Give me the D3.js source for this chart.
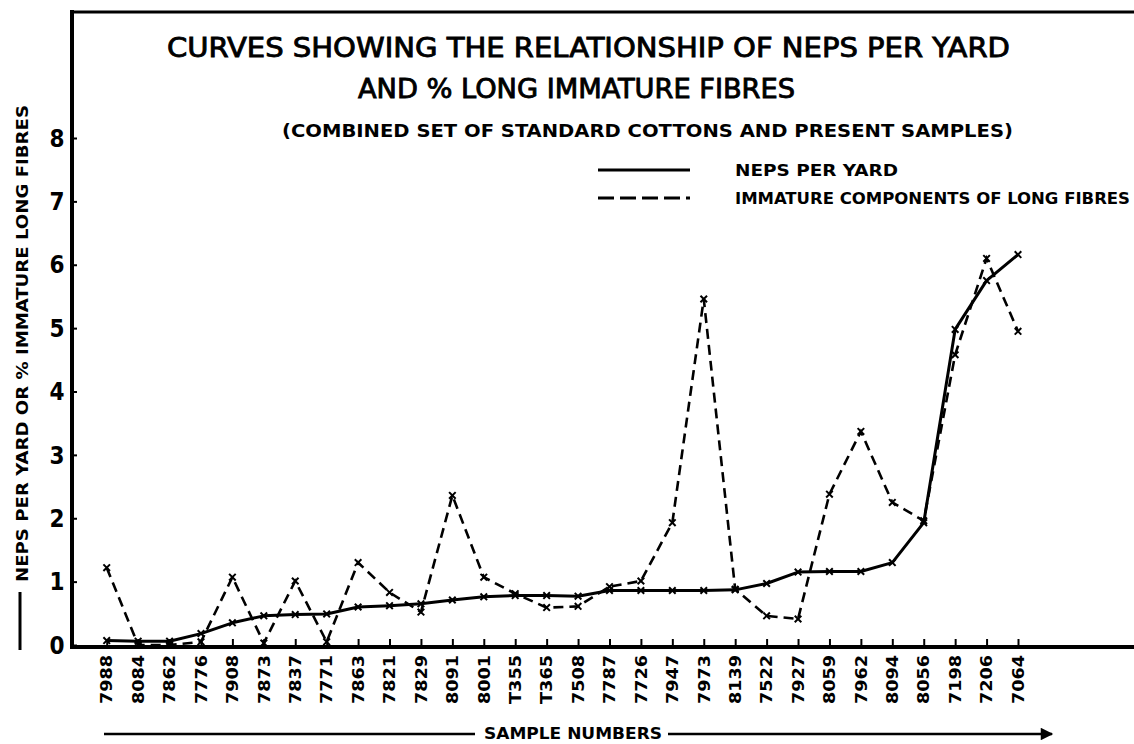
<!DOCTYPE html>
<html>
<head>
<meta charset="utf-8">
<script src="https://cdn.jsdelivr.net/npm/d3@7"></script>
<style>
  body { margin: 0; background: #fff; }
  svg { display: block; }
  text { fill: #000; font-family: "DejaVu Sans Condensed", "DejaVu Sans", sans-serif; font-weight: bold; }
</style>
</head>
<body>
<svg id="chart" width="1134" height="744"></svg>
<script>
// sample numbers along the x axis
const samples = ["7988", "8084", "7862", "7776", "7908", "7873", "7837", "7771", "7863", "7821",
  "7829", "8091", "8001", "T355", "T365", "7508", "7787", "7726", "7947", "7973",
  "8139", "7522", "7927", "8059", "7962", "8094", "8056", "7198", "7206", "7064"];

// neps per yard (solid)
const neps = [0.07, 0.06, 0.06, 0.18, 0.35, 0.46, 0.48, 0.49, 0.6, 0.62,
  0.65, 0.71, 0.76, 0.78, 0.78, 0.77, 0.86, 0.86, 0.86, 0.86,
  0.87, 0.97, 1.15, 1.16, 1.16, 1.3, 1.93, 4.98, 5.75, 6.16];

// immature components of long fibres (dashed)
const immature = [1.22, 0.0, 0.0, 0.05, 1.07, 0.03, 1.01, 0.05, 1.3, 0.83,
  0.52, 2.36, 1.07, 0.81, 0.59, 0.61, 0.92, 1.01, 1.93, 5.46,
  0.88, 0.46, 0.41, 2.38, 3.37, 2.25, 1.96, 4.58, 6.1, 4.95];

const yTicks = [0, 1, 2, 3, 4, 5, 6, 7, 8];

const svg = d3.select("#chart");

const x = d3.scalePoint().domain(samples).range([106.7, 1018]);
const y = d3.scaleLinear().domain([0, 8]).range([645, 138]);

// frame: top rule, left axis, bottom axis
svg.append("line").attr("x1", 70).attr("x2", 1134).attr("y1", 12).attr("y2", 12)
  .attr("stroke", "#000").attr("stroke-width", 3);
svg.append("line").attr("x1", 72).attr("x2", 72).attr("y1", 10).attr("y2", 649)
  .attr("stroke", "#000").attr("stroke-width", 4);
svg.append("line").attr("x1", 70).attr("x2", 1134).attr("y1", 647).attr("y2", 647)
  .attr("stroke", "#000").attr("stroke-width", 4);

// y axis ticks + labels
const yAxis = svg.append("g").attr("transform", "translate(74,0)")
  .call(d3.axisRight(y).tickValues(yTicks).tickSize(3).tickFormat(""));
yAxis.select(".domain").remove();
yAxis.selectAll("line").attr("stroke-width", 2);
svg.selectAll(".ylab").data(yTicks).enter().append("text")
  .attr("class", "ylab")
  .attr("x", 57).attr("y", d => y(d))
  .attr("dy", "0.36em")
  .attr("text-anchor", "middle")
  .style("font-size", "24px")
  .text(d => d);

// x axis ticks + labels
const xAxis = svg.append("g").attr("transform", "translate(0,645)")
  .call(d3.axisTop(x).tickSize(6).tickFormat(""));
xAxis.select(".domain").remove();
xAxis.selectAll("line").attr("stroke-width", 2);
svg.selectAll(".xlab").data(samples).enter().append("text")
  .attr("class", "xlab")
  .attr("transform", d => `translate(${x(d)},655) rotate(-90)`)
  .attr("text-anchor", "end")
  .attr("dy", "0.36em")
  .attr("textLength", 49)
  .attr("lengthAdjust", "spacingAndGlyphs")
  .style("font-size", "16px")
  .text(d => d);

// curves
const line = d3.line().x((d, i) => x(samples[i])).y(d => y(d));
svg.append("path").datum(neps)
  .attr("d", line).attr("fill", "none").attr("stroke", "#000")
  .attr("stroke-width", 3).attr("stroke-linejoin", "round");
svg.append("path").datum(immature)
  .attr("d", line).attr("fill", "none").attr("stroke", "#000")
  .attr("stroke-width", 2.6).attr("stroke-dasharray", "10,6");

const mark = d3.symbol(d3.symbolTimes).size(30);
[neps, immature].forEach(series => {
  svg.append("g").selectAll("path").data(series).enter().append("path")
    .attr("d", mark)
    .attr("transform", (d, i) => `translate(${x(samples[i])},${y(d)})`)
    .attr("fill", "none").attr("stroke", "#000").attr("stroke-width", 2);
});

// titles
svg.append("text").attr("x", 167).attr("y", 57)
  .attr("textLength", 843).attr("lengthAdjust", "spacingAndGlyphs")
  .style("font-size", "26px").style("font-weight", "normal")
  .style("stroke", "#000").style("stroke-width", 0.8)
  .text("CURVES SHOWING THE RELATIONSHIP OF NEPS PER YARD");
svg.append("text").attr("x", 358).attr("y", 98)
  .attr("textLength", 437).attr("lengthAdjust", "spacingAndGlyphs")
  .style("font-size", "26px").style("font-weight", "normal")
  .style("stroke", "#000").style("stroke-width", 0.8)
  .text("AND % LONG IMMATURE FIBRES");
svg.append("text").attr("x", 282).attr("y", 137)
  .attr("textLength", 731).attr("lengthAdjust", "spacingAndGlyphs")
  .style("font-size", "18px")
  .text("(COMBINED SET OF STANDARD COTTONS AND PRESENT SAMPLES)");

// legend
svg.append("line").attr("x1", 598).attr("x2", 690).attr("y1", 170).attr("y2", 170)
  .attr("stroke", "#000").attr("stroke-width", 3);
svg.append("line").attr("x1", 598).attr("x2", 690).attr("y1", 198).attr("y2", 198)
  .attr("stroke", "#000").attr("stroke-width", 3).attr("stroke-dasharray", "16,6");
svg.append("text").attr("x", 735).attr("y", 176)
  .attr("textLength", 163).attr("lengthAdjust", "spacingAndGlyphs")
  .style("font-size", "16px").text("NEPS PER YARD");
svg.append("text").attr("x", 735).attr("y", 204)
  .attr("textLength", 395).attr("lengthAdjust", "spacingAndGlyphs")
  .style("font-size", "16px").text("IMMATURE COMPONENTS OF LONG FIBRES");

// y axis title
svg.append("line").attr("x1", 20).attr("x2", 20).attr("y1", 592).attr("y2", 650)
  .attr("stroke", "#000").attr("stroke-width", 3);
svg.append("text")
  .attr("transform", "translate(22,582) rotate(-90)")
  .attr("dy", "0.36em")
  .attr("textLength", 477).attr("lengthAdjust", "spacingAndGlyphs")
  .style("font-size", "16px")
  .text("NEPS PER YARD OR % IMMATURE LONG FIBRES");

// x axis title with arrow
svg.append("defs").append("marker")
  .attr("id", "arrow").attr("viewBox", "0 0 10 10")
  .attr("refX", 9).attr("refY", 5)
  .attr("markerWidth", 6).attr("markerHeight", 5).attr("orient", "auto")
  .append("path").attr("d", "M0,0 L10,5 L0,10 Z").attr("fill", "#000");
svg.append("line").attr("x1", 104).attr("x2", 475).attr("y1", 734).attr("y2", 734)
  .attr("stroke", "#000").attr("stroke-width", 2.5);
svg.append("line").attr("x1", 668).attr("x2", 1052).attr("y1", 734).attr("y2", 734)
  .attr("stroke", "#000").attr("stroke-width", 2.5).attr("marker-end", "url(#arrow)");
svg.append("text").attr("x", 484).attr("y", 734)
  .attr("dy", "0.36em")
  .attr("textLength", 178).attr("lengthAdjust", "spacingAndGlyphs")
  .style("font-size", "15px").text("SAMPLE  NUMBERS");
</script>
</body>
</html>
